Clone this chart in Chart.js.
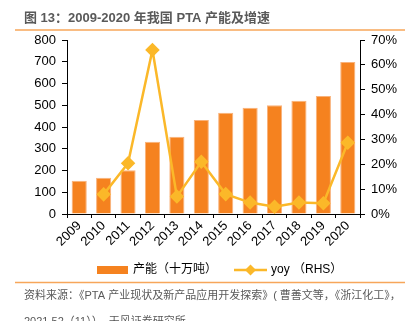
<!DOCTYPE html>
<html>
<head>
<meta charset="utf-8">
<script src="https://cdn.jsdelivr.net/npm/chart.js@4.4.1/dist/chart.umd.min.js"></script>
<style>
  html, body { margin: 0; padding: 0; background: #fff; }
  #wrap { position: relative; width: 417px; height: 321px; overflow: hidden; }
  canvas { position: absolute; left: 0; top: 0; }
</style>
</head>
<body>
<div id="wrap"><canvas id="c" width="417" height="321"></canvas></div>
<script>
// PTA capacity (100k tonnes) and year-on-year growth, 2009-2020
const years = ['2009','2010','2011','2012','2013','2014','2015','2016','2017','2018','2019','2020'];
const capacity = [153, 167, 201, 332, 355, 432, 466, 489, 500, 521, 543, 699];
const yoy = [null, 7.9, 20.4, 66.0, 7.0, 21.0, 8.0, 4.6, 2.9, 4.6, 4.3, 28.7];
const leftTicks = [0, 100, 200, 300, 400, 500, 600, 700, 800];
const rightTicks = [0, 10, 20, 30, 40, 50, 60, 70];

const titleText = '图 13：2009-2020 年我国 PTA 产能及增速';
const sourceLine1 = '资料来源：《PTA 产业现状及新产品应用开发探索》( 曹善文等，《浙江化工》，';
const sourceLine2 = '2021,52（11））, 天风证券研究所';
const legendBar = '产能（十万吨）';
const legendLine = 'yoy （RHS）';

const BAR = '#F5821F';
const LINE = '#FBB829';
const RULE = '#F7A65A';
const CJK = "'Liberation Sans', 'Noto Sans CJK SC', sans-serif";

const decorations = {
  id: 'decorations',
  afterDraw(chart) {
    const ctx = chart.ctx;
    ctx.save();
    // title
    ctx.fillStyle = '#595959';
    ctx.font = 'bold 13px ' + CJK;
    ctx.textBaseline = 'alphabetic';
    ctx.textAlign = 'left';
    ctx.fillText(titleText, 24, 22);
    // rules
    ctx.strokeStyle = RULE;
    ctx.lineWidth = 1.5;
    ctx.beginPath();
    ctx.moveTo(15, 30); ctx.lineTo(405, 30);
    ctx.moveTo(15, 282.5); ctx.lineTo(405, 282.5);
    ctx.stroke();
    // legend
    ctx.fillStyle = BAR;
    ctx.fillRect(97, 266, 31, 8);
    ctx.fillStyle = '#000';
    ctx.font = '12px ' + CJK;
    ctx.textBaseline = 'middle';
    ctx.fillText(legendBar, 133, 270);
    ctx.strokeStyle = LINE;
    ctx.lineWidth = 2.5;
    ctx.beginPath();
    ctx.moveTo(234, 270); ctx.lineTo(267, 270);
    ctx.stroke();
    ctx.fillStyle = LINE;
    ctx.beginPath();
    ctx.moveTo(250.5, 264.5); ctx.lineTo(256, 270); ctx.lineTo(250.5, 275.5); ctx.lineTo(245, 270);
    ctx.closePath(); ctx.fill();
    ctx.fillStyle = '#000';
    ctx.fillText(legendLine, 271, 270);
    // source
    ctx.fillStyle = '#595959';
    ctx.font = '11px ' + CJK;
    ctx.fillText(sourceLine1, 24, 296);
    ctx.fillText(sourceLine2, 24, 322);
    ctx.restore();
  }
};

new Chart(document.getElementById('c'), {
  data: {
    labels: years,
    datasets: [
      {
        type: 'line',
        label: legendLine,
        data: yoy,
        yAxisID: 'y1',
        borderColor: LINE,
        backgroundColor: LINE,
        borderWidth: 2.5,
        pointStyle: 'rectRot',
        pointRadius: 5.5,
        pointHoverRadius: 5.5,
        tension: 0,
        spanGaps: false,
        order: 0
      },
      {
        type: 'bar',
        label: legendBar,
        data: capacity,
        yAxisID: 'y',
        backgroundColor: BAR,
        borderColor: '#F9B27A',
        borderWidth: 1,
        categoryPercentage: 1,
        barPercentage: 0.62,
        order: 1
      }
    ]
  },
  options: {
    responsive: false,
    animation: false,
    events: [],
    layout: { padding: { left: 0, right: 0, top: 40, bottom: 0 } },
    plugins: { legend: { display: false }, tooltip: { enabled: false } },
    scales: {
      x: {
        offset: true,
        grid: { display: true, drawOnChartArea: false, offset: true, tickLength: 4, color: '#000' },
        border: { display: true, color: '#000', width: 1 },
        ticks: { color: '#000', font: { family: "'Liberation Sans', Arial, sans-serif", size: 13 }, minRotation: 45, maxRotation: 45, autoSkip: false, padding: 0 },
        afterFit(scale) { scale.height = 107; }
      },
      y: {
        position: 'left',
        min: 0, max: 800,
        afterBuildTicks(scale) { scale.ticks = leftTicks.map(v => ({ value: v })); },
        grid: { display: true, drawOnChartArea: false, tickLength: 5, color: '#000' },
        border: { display: true, color: '#000', width: 1 },
        ticks: { color: '#000', font: { family: "'Liberation Sans', Arial, sans-serif", size: 13 }, padding: 6 },
        afterFit(scale) { scale.width = 67; }
      },
      y1: {
        position: 'right',
        min: 0, max: 70,
        afterBuildTicks(scale) { scale.ticks = rightTicks.map(v => ({ value: v })); },
        grid: { display: true, drawOnChartArea: false, tickLength: 5, color: '#000' },
        border: { display: true, color: '#000', width: 1 },
        ticks: { color: '#000', font: { family: "'Liberation Sans', Arial, sans-serif", size: 13 }, padding: 6, callback: v => v + '%' },
        afterFit(scale) { scale.width = 57; }
      }
    }
  },
  plugins: [decorations]
});
</script>
</body>
</html>
